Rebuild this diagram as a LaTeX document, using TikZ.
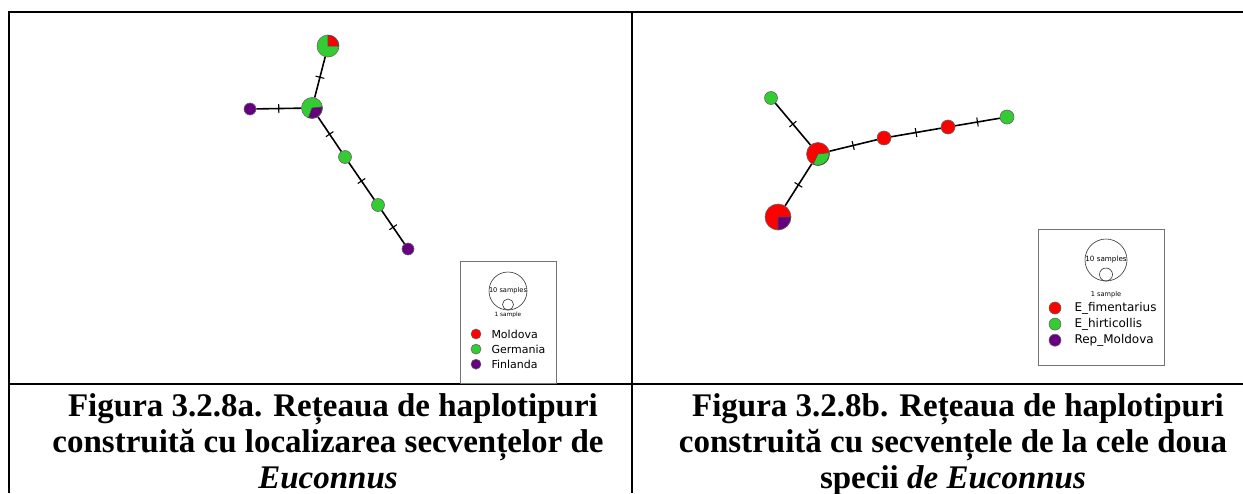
\documentclass[tikz,border=0pt]{standalone}
\usepackage{fontspec}
\setmainfont{Liberation Serif}
\newfontfamily\legfont{DejaVu Sans}
\usetikzlibrary{positioning}
\definecolor{moldred}{RGB}{255,0,0}
\definecolor{germgreen}{RGB}{51,204,51}
\definecolor{finpurple}{RGB}{102,0,128}

\begin{document}
\begin{tikzpicture}[
      x=1pt, y=-1pt,
      frame/.style={line width=2pt},
      hap/.style={circle, draw=black!60, line width=0.6pt, inner sep=0pt},
      wedge/.style={draw=black!70, line width=0.6pt},
      edge/.style={line width=1.6pt},
      mutmark/.style={draw, sloped, inner sep=0pt, minimum width=0pt, minimum height=9pt, line width=1.1pt},
      legbox/.style={draw=black!55, line width=0.8pt, inner sep=0pt},
      scalecirc/.style={circle, draw=black!80, line width=0.6pt, inner sep=0pt},
      legdot/.style={circle, draw=black!60, line width=0.6pt, inner sep=0pt},
      caption/.style={align=center, inner sep=0pt, anchor=north, font=\bfseries\fontsize{33}{36}\selectfont}
    ]

    \useasboundingbox (0,0) rectangle (1243,493);

    % Table
    \draw[frame] (9,493) -- (9,12) -- (1243,12);
    \draw[frame] (632,12) -- (632,493);
    \draw[frame] (9,384) -- (1243,384);

    % Network a
    \node[hap, fill=germgreen, minimum size=22pt] (hTop) at (328,46) {};
    \node[hap, fill=germgreen, minimum size=21pt] (hMid) at (312,108) {};
    \node[hap, fill=finpurple, minimum size=12pt] (hFinA) at (250,109) {};
    \node[hap, fill=germgreen, minimum size=13pt] (hGerA) at (345,157) {};
    \node[hap, fill=germgreen, minimum size=13pt] (hGerB) at (378,205) {};
    \node[hap, fill=finpurple, minimum size=12pt] (hFinB) at (408,249) {};

    \filldraw[wedge, fill=moldred] (hTop.center) -- ++(0:10.7pt) arc[start angle=0, end angle=90, radius=10.7pt] -- cycle;
    \filldraw[wedge, fill=finpurple] (hMid.center) -- ++(6:10.2pt) arc[start angle=6, end angle=-110, radius=10.2pt] -- cycle;

    \draw[edge] (hTop) -- node[mutmark]{} (hMid);
    \draw[edge] (hFinA) -- node[mutmark]{} (hMid);
    \draw[edge] (hMid) -- node[mutmark]{} (hGerA);
    \draw[edge] (hGerA) -- node[mutmark]{} (hGerB);
    \draw[edge] (hGerB) -- node[mutmark]{} (hFinB);

    % Legend a
    \node[legbox, minimum width=96pt, minimum height=122pt] (legA) at (508,322) {};
    \node[scalecirc, minimum size=38pt] (bigA) at (508,291) {};
    \node[scalecirc, minimum size=11pt] (smallA) at (508,304.5) {};
    \node[font=\legfont\fontsize{6.6}{7}\selectfont, inner sep=0pt] (tenA) at (bigA) {10 samples};
    \node[font=\legfont\fontsize{5.8}{7}\selectfont, inner sep=0pt] (oneA) at (508,315) {1 sample};
    \node[legdot, fill=moldred, minimum size=10pt] (dotMold) at (476,334) {};
    \node[legdot, fill=germgreen, minimum size=10pt, below=4.5pt of dotMold] (dotGerm) {};
    \node[legdot, fill=finpurple, minimum size=10pt, below=4.5pt of dotGerm] (dotFin) {};
    \node[font=\legfont\fontsize{11}{12}\selectfont, inner sep=0pt, right=10pt of dotMold] {Moldova};
    \node[font=\legfont\fontsize{11}{12}\selectfont, inner sep=0pt, right=10pt of dotGerm] {Germania};
    \node[font=\legfont\fontsize{11}{12}\selectfont, inner sep=0pt, right=10pt of dotFin] {Finlanda};

    % Network b
    \node[hap, fill=germgreen, minimum size=13pt] (hHirA) at (771,98) {};
    \node[hap, fill=moldred, minimum size=23pt] (hCore) at (818,154) {};
    \node[hap, fill=moldred, minimum size=26pt] (hBig) at (778,217) {};
    \node[hap, fill=moldred, minimum size=14pt] (hFimA) at (884,138) {};
    \node[hap, fill=moldred, minimum size=14pt] (hFimB) at (948,127) {};
    \node[hap, fill=germgreen, minimum size=14pt] (hHirB) at (1007,117) {};

    \filldraw[wedge, fill=germgreen] (hCore.center) -- ++(7:11.2pt) arc[start angle=7, end angle=-115, radius=11.2pt] -- cycle;
    \filldraw[wedge, fill=finpurple] (hBig.center) -- ++(0:12.7pt) arc[start angle=0, end angle=-90, radius=12.7pt] -- cycle;

    \draw[edge] (hHirA) -- node[mutmark]{} (hCore);
    \draw[edge] (hBig) -- node[mutmark]{} (hCore);
    \draw[edge] (hCore) -- node[mutmark]{} (hFimA);
    \draw[edge] (hFimA) -- node[mutmark]{} (hFimB);
    \draw[edge] (hFimB) -- node[mutmark]{} (hHirB);

    % Legend b
    \node[legbox, minimum width=126pt, minimum height=136pt] (legB) at (1101,297) {};
    \node[scalecirc, minimum size=42pt] (bigB) at (1106,260) {};
    \node[scalecirc, minimum size=13pt] (smallB) at (1106,274.5) {};
    \node[font=\legfont\fontsize{7.2}{8}\selectfont, inner sep=0pt] (tenB) at (bigB) {10 samples};
    \node[font=\legfont\fontsize{6.6}{8}\selectfont, inner sep=0pt] (oneB) at (1106,295) {1 sample};
    \node[legdot, fill=moldred, minimum size=12pt] (dotFim) at (1055,308) {};
    \node[legdot, fill=germgreen, minimum size=12pt, below=3.5pt of dotFim] (dotHir) {};
    \node[legdot, fill=finpurple, minimum size=12pt, below=3.5pt of dotHir] (dotRep) {};
    \node[font=\legfont\fontsize{12}{14}\selectfont, inner sep=0pt, right=13pt of dotFim] {E\_fimentarius};
    \node[font=\legfont\fontsize{12}{14}\selectfont, inner sep=0pt, right=13pt of dotHir] {E\_hirticollis};
    \node[font=\legfont\fontsize{12}{14}\selectfont, inner sep=0pt, right=13pt of dotRep] {Rep\_Moldova};

    % Captions
    \node[caption] (capA) at (328,393) {\hspace*{10pt}Figura 3.2.8a. Rețeaua de haplotipuri\\construită cu localizarea secvențelor de\\\textit{Euconnus}};
    \node[caption] (capB) at (953,393) {\hspace*{10pt}Figura 3.2.8b. Rețeaua de haplotipuri\\construită cu secvențele de la cele doua\\specii \textit{de Euconnus}};

  \end{tikzpicture}
\end{document}
